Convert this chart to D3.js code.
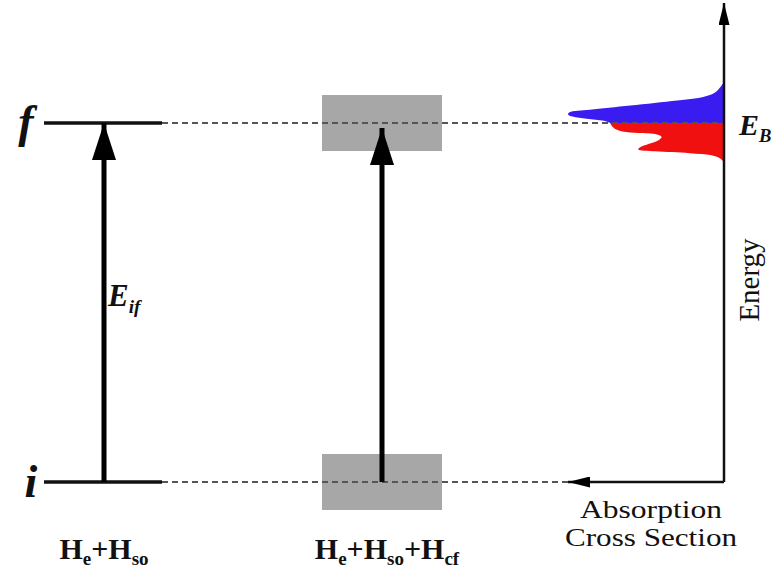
<!DOCTYPE html>
<html>
<head>
<meta charset="utf-8">
<script src="https://cdn.jsdelivr.net/npm/d3@7"></script>
<style>
  body { margin: 0; background: #fff; }
  svg { display: block; }
  text { font-family: "Liberation Serif", "Times New Roman", Times, serif; fill: #111; }
</style>
</head>
<body>
<svg id="sketch" width="774" height="571"></svg>
<script>
// energy levels (arbitrary units, i = 0, f = E_B = 100)
let levels = [
    { code: 'i', e: 0 },
    { code: 'f', e: 100 },
];
let columns = [
    { code: 'free',  label: ['H', 'e', '+H', 'so'] },
    { code: 'cf',    label: ['H', 'e', '+H', 'so', '+H', 'cf'] },
];
let absLabel = ['Absorption', 'Cross Section'];
// absorption spectrum: [energy, intensity]
let blueSpec = [
    [111.4, 0.00], [110.2, 0.02], [108.4, 0.06], [107.2, 0.14], [106.3, 0.30],
    [104.9, 0.60], [103.7, 0.86], [103.0, 0.99], [102.4, 1.00], [101.8, 0.97],
    [101.2, 0.88], [100.6, 0.77], [100.0, 0.73],
];
let redSpec = [
    [100.0, 0.73], [99.2, 0.72], [98.4, 0.70], [97.6, 0.65], [97.2, 0.55],
    [96.8, 0.43], [96.1, 0.40], [95.2, 0.42], [94.2, 0.48], [93.2, 0.54],
    [92.6, 0.55], [92.1, 0.44], [91.6, 0.22], [91.0, 0.08], [90.0, 0.02],
    [89.1, 0.00],
];

let svg = d3.select('#sketch');

let y = d3.scaleLinear().domain([0, 100]).range([482, 123]);
let colX = d3.scalePoint().domain(columns.map(d => d.code)).range([104, 382]);
let axisX = 724;
let specX = d3.scaleLinear().domain([0, 1]).range([axisX, 568]);

let defs = svg.append('defs');
function marker (id, w, h) {
    defs.append('marker')
        .attr('id', id)
        .attr('viewBox', `0 0 ${h} ${w}`)
        .attr('refX', h).attr('refY', w / 2)
        .attr('markerWidth', h).attr('markerHeight', w)
        .attr('markerUnits', 'userSpaceOnUse')
        .attr('orient', 'auto')
        .append('path')
        .attr('d', `M0,0 L${h},${w / 2} L0,${w} Z`)
        .attr('fill', '#000');
}
marker('bigHead', 24, 37);
marker('smallHead', 11, 22);

// gray crystal-field bands
svg.selectAll('rect.band')
    .data(levels)
    .enter()
    .append('rect')
    .attr('class', 'band')
    .attr('x', colX('cf') - 60)
    .attr('y', d => y(d.e) - 28)
    .attr('width', 120)
    .attr('height', 56)
    .attr('fill', '#a7a7a7');

// spectrum
let area = d3.area()
    .y(d => y(d[0]))
    .x0(axisX)
    .x1(d => specX(d[1]))
    .curve(d3.curveCatmullRom);
svg.append('path').datum(blueSpec).attr('d', area).attr('fill', '#3a1cf0');
svg.append('path').datum(redSpec).attr('d', area).attr('fill', '#f01010');

// dashed level lines
svg.selectAll('line.dash')
    .data(levels)
    .enter()
    .append('line')
    .attr('class', 'dash')
    .attr('x1', 162)
    .attr('x2', d => d.code === 'f' ? axisX : 570)
    .attr('y1', d => y(d.e))
    .attr('y2', d => y(d.e))
    .attr('stroke', '#555')
    .attr('stroke-width', 2)
    .attr('stroke-dasharray', '6,4');

// solid level lines
svg.selectAll('line.level')
    .data(levels)
    .enter()
    .append('line')
    .attr('class', 'level')
    .attr('x1', 44).attr('x2', 162)
    .attr('y1', d => y(d.e)).attr('y2', d => y(d.e))
    .attr('stroke', '#111')
    .attr('stroke-width', 3.5);

// transition arrows
svg.selectAll('line.trans')
    .data(columns)
    .enter()
    .append('line')
    .attr('class', 'trans')
    .attr('x1', d => colX(d.code)).attr('x2', d => colX(d.code))
    .attr('y1', y(0))
    .attr('y2', (d, i) => y(100) + (i ? 5 : 0))
    .attr('stroke', '#000')
    .attr('stroke-width', 5)
    .attr('marker-end', 'url(#bigHead)');

// energy / absorption axes
svg.append('path')
    .attr('d', `M${axisX},${y(0)} L${axisX},3`)
    .attr('stroke', '#111').attr('stroke-width', 2.5).attr('fill', 'none')
    .attr('marker-end', 'url(#smallHead)');
svg.append('path')
    .attr('d', `M${axisX},${y(0)} L${568},${y(0)}`)
    .attr('stroke', '#111').attr('stroke-width', 2.5).attr('fill', 'none')
    .attr('marker-end', 'url(#smallHead)');

// level labels
svg.selectAll('text.lvl')
    .data(levels)
    .enter()
    .append('text')
    .attr('class', 'lvl')
    .attr('x', d => d.code === 'f' ? 26 : 31)
    .attr('y', d => y(d.e) + (d.code === 'f' ? 14 : 15))
    .attr('text-anchor', 'middle')
    .attr('font-size', 46)
    .attr('font-style', 'italic')
    .attr('font-weight', 'bold')
    .text(d => d.code);

// E_if and E_B
function subLabel (x, yy, main, sub, size) {
    let t = svg.append('text')
        .attr('x', x).attr('y', yy)
        .attr('font-size', size)
        .attr('font-style', 'italic')
        .attr('font-weight', 'bold');
    t.append('tspan').text(main);
    t.append('tspan').attr('font-size', size * 0.62).attr('dy', size * 0.22).text(sub);
}
subLabel(108, 306, 'E', 'if', 31);
subLabel(739, 135, 'E', 'B', 30);

// Energy axis title
svg.append('text')
    .attr('transform', `translate(759,${280}) rotate(-90)`)
    .attr('text-anchor', 'middle')
    .attr('font-size', 29)
    .text('Energy');

svg.selectAll('text.abs')
    .data(absLabel)
    .enter()
    .append('text')
    .attr('class', 'abs')
    .attr('x', 651)
    .attr('y', (d, i) => 518 + i * 28)
    .attr('text-anchor', 'middle')
    .attr('font-size', 25)
    .attr('textLength', (d, i) => i ? 172 : 142)
    .attr('lengthAdjust', 'spacingAndGlyphs')
    .text(d => d);

// hamiltonian labels
svg.selectAll('text.ham')
    .data(columns)
    .enter()
    .append('text')
    .attr('class', 'ham')
    .attr('x', d => colX(d.code) + (d.code === 'cf' ? 5 : 0))
    .attr('y', 559)
    .attr('text-anchor', 'middle')
    .attr('font-size', 30)
    .attr('font-weight', 'bold')
    .each(function (d) {
        let t = d3.select(this);
        d.label.forEach((s, k) => {
            let sp = t.append('tspan').text(s);
            if (k % 2) sp.attr('font-size', 19).attr('dy', 6);
            else if (k) sp.attr('dy', -6);
        });
    });
</script>
</body>
</html>
